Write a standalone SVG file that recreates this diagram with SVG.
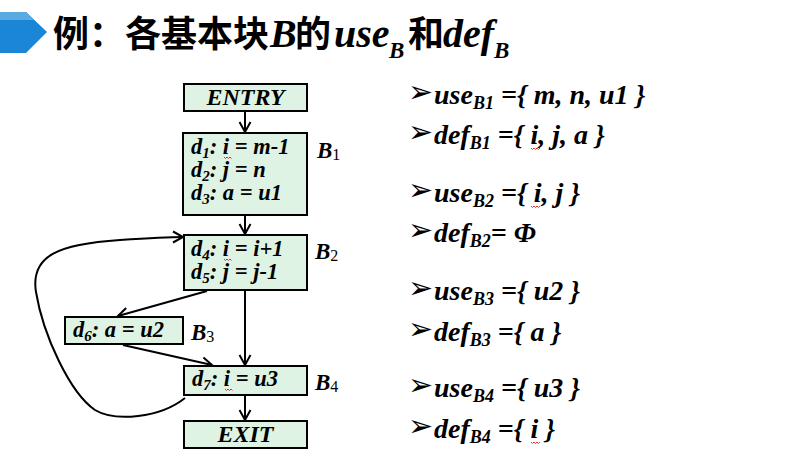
<svg xmlns="http://www.w3.org/2000/svg" width="804" height="466" viewBox="0 0 804 466">
<defs>
<style>
.cjk{font-family:"Noto Sans CJK SC","Noto Sans CJK JP",sans-serif;font-weight:bold;}
.s{font-family:"Liberation Serif","Times New Roman",serif;font-weight:bold;font-style:italic;fill:#000;}
.box{fill:#DFF3E4;stroke:#000;stroke-width:2;}
.lbl{font-family:"Liberation Serif","Times New Roman",serif;font-weight:bold;font-style:italic;font-size:23px;}
.lbl .n{font-weight:normal;font-style:normal;font-size:16px;}
.ft{font-size:22.5px;}
.sub{font-size:15px;}
.r{font-size:28px;}
.rs{font-size:18px;}
.bul{font-family:"DejaVu Sans",sans-serif;font-size:30px;fill:#000;}
.conn path{fill:none;stroke:#000;stroke-width:2;}
.sq{fill:none;stroke:#E03030;stroke-width:1;}
</style>
<marker id="arr" markerUnits="userSpaceOnUse" markerWidth="14" markerHeight="14" refX="11" refY="7" orient="auto">
<path d="M1,1.5 L11,7 L1,12.5" fill="none" stroke="#000" stroke-width="2"/>
</marker>
</defs>
<rect width="804" height="466" fill="#fff"/>

<g id="title">
<polygon points="0,12 26,12 47,32 26,53 0,53" fill="#1C86D6"/>
<polygon points="0,12 26,12 34,20 0,20" fill="#5CAAE4"/>
<text x="53" y="47" class="cjk" font-size="36">例：各基本块</text>
<text x="270" y="47" class="s" font-size="40">B</text>
<text x="295" y="47" class="cjk" font-size="36">的</text>
<text x="334" y="47" class="s" font-size="40">use</text>
<text x="389" y="58" class="s" font-size="23">B</text>
<text x="408" y="47" class="cjk" font-size="36">和</text>
<text x="443" y="47" class="s" font-size="40">def</text>
<text x="494" y="58" class="s" font-size="23">B</text>
</g>

<g id="connectors" class="conn">
<path d="M245,111 L245,132" marker-end="url(#arr)"/>
<path d="M245,215 L245,234" marker-end="url(#arr)"/>
<path d="M245,290 L245,365" marker-end="url(#arr)"/>
<path d="M207,291 L118,316" marker-end="url(#arr)"/>
<path d="M123,345 L212,365" marker-end="url(#arr)"/>
<path d="M245,395 L245,420" marker-end="url(#arr)"/>
<path d="M185,398 C160,418 115,422 95,410 C70,393 43,335 36,292 C30,255 60,244 120,240 C150,238 170,237 183,237" marker-end="url(#arr)"/>
</g>

<g id="ENTRY">
<rect class="box" x="184" y="84" width="123" height="27"/>
<text x="245.5" y="105" class="s" style="font-size:24px" text-anchor="middle">ENTRY</text>
</g>

<g id="B1">
<rect class="box" x="183" y="133" width="124" height="82"/>
<text x="191" y="154" class="s ft">d<tspan class="sub" dy="4">1</tspan><tspan dy="-4">: i = m-1</tspan></text>
<text x="191" y="177" class="s ft">d<tspan class="sub" dy="4">2</tspan><tspan dy="-4">: j = n</tspan></text>
<text x="191" y="200" class="s ft">d<tspan class="sub" dy="4">3</tspan><tspan dy="-4">: a = u1</tspan></text>
<path class="sq" d="M224,157 l1.5,1.5 l1.5,-1.5 l1.5,1.5 l1.5,-1.5 l1.5,1.5"/>
<text x="317" y="158" class="lbl">B<tspan class="n" dy="2">1</tspan></text>
</g>

<g id="B2">
<rect class="box" x="184" y="235" width="123" height="55"/>
<text x="191" y="256" class="s ft">d<tspan class="sub" dy="4">4</tspan><tspan dy="-4">: i = i+1</tspan></text>
<text x="191" y="279" class="s ft">d<tspan class="sub" dy="4">5</tspan><tspan dy="-4">: j = j-1</tspan></text>
<path class="sq" d="M224,259 l1.5,1.5 l1.5,-1.5 l1.5,1.5 l1.5,-1.5 l1.5,1.5"/>
<text x="315" y="259" class="lbl">B<tspan class="n" dy="2">2</tspan></text>
</g>

<g id="B3">
<rect class="box" x="65" y="317" width="118" height="27"/>
<text x="73" y="337" class="s ft">d<tspan class="sub" dy="4">6</tspan><tspan dy="-4">: a = u2</tspan></text>
<text x="191" y="340" class="lbl">B<tspan class="n" dy="2">3</tspan></text>
</g>

<g id="B4">
<rect class="box" x="184" y="366" width="123" height="29"/>
<text x="192" y="386" class="s ft">d<tspan class="sub" dy="4">7</tspan><tspan dy="-4">: i = u3</tspan></text>
<path class="sq" d="M225,389 l1.5,1.5 l1.5,-1.5 l1.5,1.5 l1.5,-1.5 l1.5,1.5"/>
<text x="315" y="390" class="lbl">B<tspan class="n" dy="2">4</tspan></text>
</g>

<g id="EXIT">
<rect class="box" x="184" y="421" width="123" height="27"/>
<text x="245.5" y="442" class="s" style="font-size:24px" text-anchor="middle">EXIT</text>
</g>

<g id="sets">
<text x="408" y="102" class="bul">➢</text>
<text x="434" y="104" class="s r">use<tspan class="rs" dy="5">B1</tspan><tspan dy="-5"> ={ m, n, u1 }</tspan></text>
<text x="408" y="142" class="bul">➢</text>
<text x="434" y="144" class="s r">def<tspan class="rs" dy="5">B1</tspan><tspan dy="-5"> ={ i, j, a }</tspan></text>
<path class="sq" d="M531,148 l1.5,1.5 l1.5,-1.5 l1.5,1.5 l1.5,-1.5 l1.5,1.5 l1.5,-1.5"/>
<text x="408" y="200" class="bul">➢</text>
<text x="434" y="202" class="s r">use<tspan class="rs" dy="5">B2</tspan><tspan dy="-5"> ={ i, j }</tspan></text>
<path class="sq" d="M531,206 l1.5,1.5 l1.5,-1.5 l1.5,1.5 l1.5,-1.5 l1.5,1.5 l1.5,-1.5"/>
<text x="408" y="240" class="bul">➢</text>
<text x="434" y="242" class="s r">def<tspan class="rs" dy="5">B2</tspan><tspan dy="-5">= Φ</tspan></text>
<text x="408" y="298" class="bul">➢</text>
<text x="434" y="300" class="s r">use<tspan class="rs" dy="5">B3</tspan><tspan dy="-5"> ={ u2 }</tspan></text>
<text x="408" y="339" class="bul">➢</text>
<text x="434" y="341" class="s r">def<tspan class="rs" dy="5">B3</tspan><tspan dy="-5"> ={ a }</tspan></text>
<text x="408" y="395" class="bul">➢</text>
<text x="434" y="397" class="s r">use<tspan class="rs" dy="5">B4</tspan><tspan dy="-5"> ={ u3 }</tspan></text>
<text x="408" y="436" class="bul">➢</text>
<text x="434" y="438" class="s r">def<tspan class="rs" dy="5">B4</tspan><tspan dy="-5"> ={ i }</tspan></text>
<path class="sq" d="M531,442 l1.5,1.5 l1.5,-1.5 l1.5,1.5 l1.5,-1.5 l1.5,1.5 l1.5,-1.5"/>
</g>
</svg>
